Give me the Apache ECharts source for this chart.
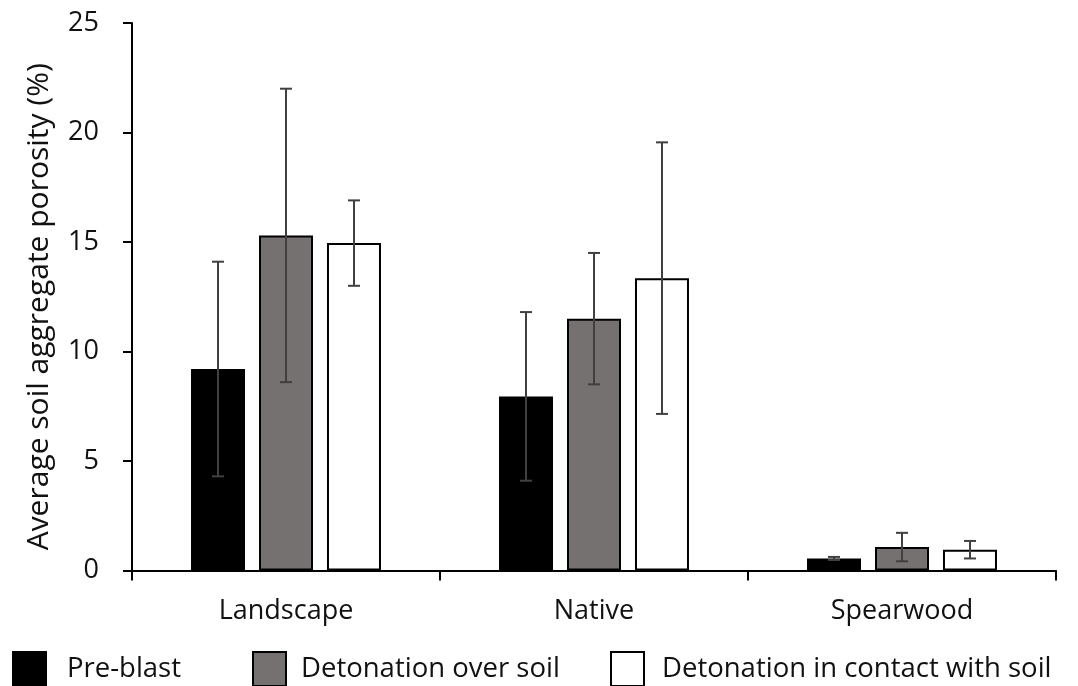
<!DOCTYPE html>
<html>
<head>
<meta charset="utf-8">
<script src="https://cdn.jsdelivr.net/npm/echarts@6/dist/echarts.min.js"></script>
<style>
  html, body { margin: 0; padding: 0; background: #fff; }
  #chart { width: 1078px; height: 686px; }
</style>
</head>
<body>
<div id="chart"></div>
<script>
// Soil aggregate porosity by soil type and blast treatment (mean ± error)
const categories = ['Landscape', 'Native', 'Spearwood'];
const seriesNames = ['Pre-blast', 'Detonation over soil', 'Detonation in contact with soil'];

const preBlast = [9.2, 7.95, 0.55];
const preBlastErr = [4.9, 3.85, 0.07];

const overSoil = [15.3, 11.5, 1.07];
const overSoilErr = [6.7, 3.0, 0.65];

const contactSoil = [14.95, 13.35, 0.95];
const contactSoilErr = [1.95, 6.2, 0.4];

const yTicks = [0, 5, 10, 15, 20, 25];

const FONT = '"Open Sans", "Noto Sans", sans-serif';
const TEXT = '#111';
const BAR_W = 54;
const BAR_STEP = 68;           // centre-to-centre distance of bars in a group
const ERR_COLOR = '#404040';

const chart = echarts.init(document.getElementById('chart'), null, { renderer: 'canvas' });

// Error bars drawn on top of each bar, shifted to that bar's slot in the group
function errorSeries(name, means, errs, slot) {
  return {
    type: 'custom',
    name: name + ' error',
    z: 10,
    silent: true,
    data: means.map((m, i) => [i, m - errs[i], m + errs[i]]),
    renderItem: function (params, api) {
      const lo = api.coord([api.value(0), api.value(1)]);
      const hi = api.coord([api.value(0), api.value(2)]);
      const x = lo[0] + slot * BAR_STEP;
      const cap = 6;
      const style = { stroke: ERR_COLOR, lineWidth: 2 };
      return {
        type: 'group',
        children: [
          { type: 'line', shape: { x1: x, y1: lo[1], x2: x, y2: hi[1] }, style: style },
          { type: 'line', shape: { x1: x - cap, y1: hi[1], x2: x + cap, y2: hi[1] }, style: style },
          { type: 'line', shape: { x1: x - cap, y1: lo[1], x2: x + cap, y2: lo[1] }, style: style }
        ]
      };
    }
  };
}

function barSeries(name, values, fill) {
  return {
    type: 'bar',
    name: name,
    data: values,
    barWidth: BAR_W,
    barGap: ((BAR_STEP - BAR_W) / BAR_W * 100).toFixed(1) + '%',
    itemStyle: { color: fill, borderColor: '#000', borderWidth: 2 },
    emphasis: { disabled: true }
  };
}

function legendItem(name, left, textPad) {
  return {
    data: [name],
    left: left,
    top: 651,
    padding: 0,
    icon: 'rect',
    itemWidth: 33,
    itemHeight: 34,
    selectedMode: false,
    textStyle: { fontFamily: FONT, fontSize: 27.5, color: TEXT, padding: [0, 0, 0, textPad] }
  };
}

const option = {
  animation: false,
  backgroundColor: '#fff',
  grid: { left: 132, right: 22, top: 23, bottom: 115.5, containLabel: false },
  legend: [
    legendItem(seriesNames[0], 12, 16),
    legendItem(seriesNames[1], 252, 10),
    legendItem(seriesNames[2], 610, 13)
  ],
  xAxis: {
    type: 'category',
    data: categories,
    axisLine: { lineStyle: { color: '#000', width: 2 } },
    axisTick: { show: true, length: 10, lineStyle: { color: '#000', width: 2 } },
    axisLabel: { fontFamily: FONT, fontSize: 27, color: TEXT, margin: 27 },
    splitLine: { show: false }
  },
  yAxis: {
    type: 'value',
    min: yTicks[0],
    max: yTicks[yTicks.length - 1],
    interval: yTicks[1] - yTicks[0],
    name: 'Average soil aggregate porosity (%)',
    nameLocation: 'middle',
    nameGap: 78,
    nameTextStyle: { fontFamily: FONT, fontSize: 30, color: TEXT, padding: [0, 20, 0, 0] },
    axisLine: { show: true, lineStyle: { color: '#000', width: 2 } },
    axisTick: { show: true, length: 9, lineStyle: { color: '#000', width: 2 } },
    axisLabel: { fontFamily: FONT, fontSize: 27, color: TEXT, margin: 33 },
    splitLine: { show: false }
  },
  series: [
    barSeries(seriesNames[0], preBlast, '#000'),
    barSeries(seriesNames[1], overSoil, '#767171'),
    barSeries(seriesNames[2], contactSoil, '#fff'),
    errorSeries(seriesNames[0], preBlast, preBlastErr, -1),
    errorSeries(seriesNames[1], overSoil, overSoilErr, 0),
    errorSeries(seriesNames[2], contactSoil, contactSoilErr, 1)
  ]
};

chart.setOption(option);
</script>
</body>
</html>
